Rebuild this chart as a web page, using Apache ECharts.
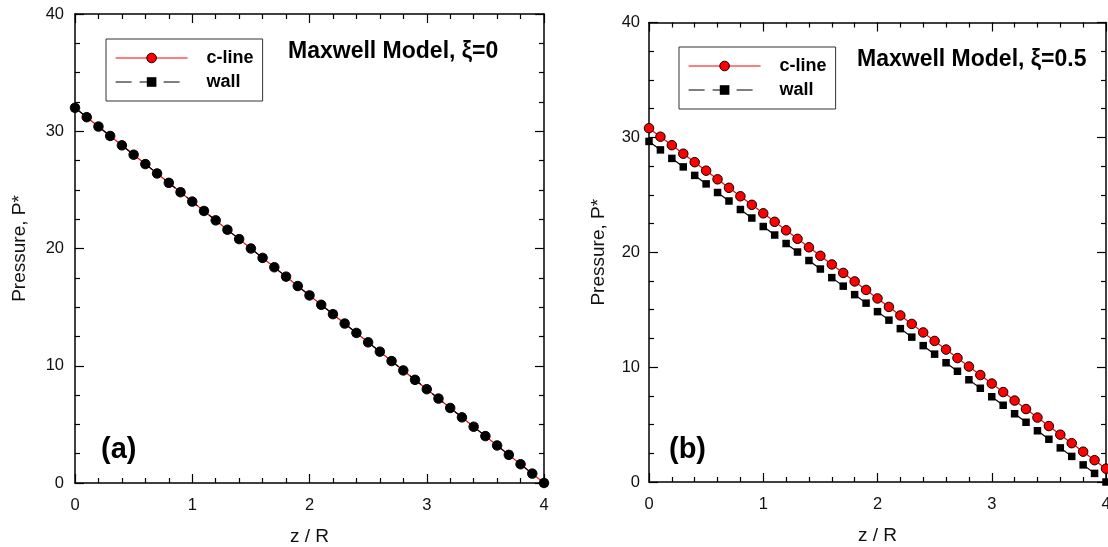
<!DOCTYPE html>
<html>
<head>
<meta charset="utf-8">
<title>Maxwell Model pressure profiles</title>
<script src="https://cdn.jsdelivr.net/npm/echarts@6/dist/echarts.min.js"></script>
<style>
  html, body { margin: 0; padding: 0; background: #fff; overflow: hidden; }
  #chart { width: 1108px; height: 547px; }
</style>
</head>
<body>
<div id="chart"></div>
<script>
// Axial position z / R
const zR = [0, 0.1, 0.2, 0.3, 0.4, 0.5, 0.6, 0.7, 0.8, 0.9,
            1.0, 1.1, 1.2, 1.3, 1.4, 1.5, 1.6, 1.7, 1.8, 1.9,
            2.0, 2.1, 2.2, 2.3, 2.4, 2.5, 2.6, 2.7, 2.8, 2.9,
            3.0, 3.1, 3.2, 3.3, 3.4, 3.5, 3.6, 3.7, 3.8, 3.9, 4.0];

// (a) xi = 0 : centre line and wall pressure coincide
const pCenterA = [32.0, 31.2, 30.4, 29.6, 28.8, 28.0, 27.2, 26.4, 25.6, 24.8,
                  24.0, 23.2, 22.4, 21.6, 20.8, 20.0, 19.2, 18.4, 17.6, 16.8,
                  16.0, 15.2, 14.4, 13.6, 12.8, 12.0, 11.2, 10.4, 9.6, 8.8,
                  8.0, 7.2, 6.4, 5.6, 4.8, 4.0, 3.2, 2.4, 1.6, 0.8, 0.0];
const pWallA   = [32.0, 31.2, 30.4, 29.6, 28.8, 28.0, 27.2, 26.4, 25.6, 24.8,
                  24.0, 23.2, 22.4, 21.6, 20.8, 20.0, 19.2, 18.4, 17.6, 16.8,
                  16.0, 15.2, 14.4, 13.6, 12.8, 12.0, 11.2, 10.4, 9.6, 8.8,
                  8.0, 7.2, 6.4, 5.6, 4.8, 4.0, 3.2, 2.4, 1.6, 0.8, 0.0];

// (b) xi = 0.5
const pCenterB = [30.80, 30.06, 29.32, 28.58, 27.84, 27.10, 26.35, 25.61, 24.87, 24.13,
                  23.39, 22.65, 21.91, 21.17, 20.43, 19.69, 18.94, 18.20, 17.46, 16.72,
                  15.98, 15.24, 14.50, 13.76, 13.02, 12.28, 11.53, 10.79, 10.05, 9.31,
                  8.57, 7.83, 7.09, 6.35, 5.61, 4.87, 4.12, 3.38, 2.64, 1.90, 1.16];
const pWallB   = [29.65, 28.91, 28.17, 27.43, 26.69, 25.95, 25.20, 24.46, 23.72, 22.98,
                  22.24, 21.50, 20.76, 20.02, 19.28, 18.54, 17.79, 17.05, 16.31, 15.57,
                  14.83, 14.09, 13.35, 12.61, 11.87, 11.13, 10.38, 9.64, 8.90, 8.16,
                  7.42, 6.68, 5.94, 5.20, 4.46, 3.72, 2.97, 2.23, 1.49, 0.75, 0.00];

const seriesNames = ['c-line', 'wall'];
const panelTitles = ['Maxwell Model, \u03be=0', 'Maxwell Model, \u03be=0.5'];
const panelTags = ['(a)', '(b)'];
const xAxisName = 'z / R';
const yAxisName = 'Pressure, P*';

const FONT = '"Liberation Sans", Arial, Helvetica, sans-serif';
const RED = '#ff0000';

const pairs = (xs, ys) => xs.map((x, i) => [x, ys[i]]);

// fixed plot frames; labels may run to the page edge
const grids = [
  { left: 75, top: 14, width: 469, height: 469, outerBoundsMode: 'none', containLabel: false },
  { left: 649, top: 22.5, width: 457, height: 459.5, outerBoundsMode: 'none', containLabel: false }
];

const tickStyle = { color: '#000', width: 1.2 };
const frameLine = { show: true, onZero: false, lineStyle: { color: '#000', width: 1.5 } };

function bottomAxis(gridIndex) {
  return {
    type: 'value', gridIndex, position: 'bottom', min: 0, max: 4, interval: 1,
    name: xAxisName, nameLocation: 'middle', nameGap: 44,
    nameTextStyle: { fontFamily: FONT, fontSize: 19, color: '#111' },
    axisLine: frameLine,
    axisTick: { show: true, inside: true, length: 9, lineStyle: tickStyle },
    minorTick: { show: true, splitNumber: 5, length: 5, lineStyle: tickStyle },
    axisLabel: { fontFamily: FONT, fontSize: 16.5, color: '#111', margin: 14 },
    splitLine: { show: false }
  };
}
function topAxis(gridIndex) {
  return {
    type: 'value', gridIndex, position: 'top', min: 0, max: 4, interval: 1,
    axisLine: frameLine,
    axisTick: { show: true, inside: true, length: 9, lineStyle: tickStyle },
    minorTick: { show: true, splitNumber: 5, length: 5, lineStyle: tickStyle },
    axisLabel: { show: false },
    splitLine: { show: false }
  };
}
function leftAxis(gridIndex, nameGap, margin) {
  return {
    type: 'value', gridIndex, position: 'left', min: 0, max: 40, interval: 10,
    name: yAxisName, nameLocation: 'middle', nameGap, nameRotate: 90,
    nameTextStyle: { fontFamily: FONT, fontSize: 19, color: '#111' },
    axisLine: frameLine,
    axisTick: { show: true, inside: true, length: 9, lineStyle: tickStyle },
    minorTick: { show: true, splitNumber: 4, length: 5, lineStyle: tickStyle },
    axisLabel: { fontFamily: FONT, fontSize: 16.5, color: '#111', margin },
    splitLine: { show: false }
  };
}
function rightAxis(gridIndex) {
  return {
    type: 'value', gridIndex, position: 'right', min: 0, max: 40, interval: 10,
    axisLine: frameLine,
    axisTick: { show: true, inside: true, length: 9, lineStyle: tickStyle },
    minorTick: { show: true, splitNumber: 4, length: 5, lineStyle: tickStyle },
    axisLabel: { show: false },
    splitLine: { show: false }
  };
}

function legendFor(left, top) {
  return {
    orient: 'vertical', left, top,
    padding: [10, 9, 10, 9],
    itemWidth: 72, itemHeight: 12, itemGap: 6,
    borderColor: '#333', borderWidth: 1, borderRadius: 0,
    selectedMode: false,
    textStyle: { fontFamily: FONT, fontSize: 18, fontWeight: 'bold', color: '#000', padding: [0, 0, 0, 14] },
    data: [
      { name: seriesNames[0],
        itemStyle: { color: RED, borderColor: '#000', borderWidth: 1 },
        lineStyle: { color: RED, width: 1.2, type: 'solid' } },
      { name: seriesNames[1],
        itemStyle: { color: '#000', borderColor: '#000', borderWidth: 0 },
        lineStyle: { color: '#000', width: 1.2, type: [16, 8] } }
    ]
  };
}

const centreStyleA = {
  symbol: 'circle', symbolSize: 9.5,
  itemStyle: { color: '#140404', borderColor: '#000', borderWidth: 1 },
  lineStyle: { color: RED, width: 1.2 }
};
const centreStyleB = {
  symbol: 'circle', symbolSize: 9.5,
  itemStyle: { color: RED, borderColor: '#000', borderWidth: 1 },
  lineStyle: { color: RED, width: 1.2 }
};
const wallStyle = {
  symbol: 'rect', symbolSize: 7.5,
  itemStyle: { color: '#000', borderWidth: 0 },
  lineStyle: { color: '#000', width: 1.2, type: [14, 14.6], dashOffset: 0 }
};

const titleText = { fontFamily: FONT, fontSize: 23, fontWeight: 'bold', color: '#000' };
const tagText = { fontFamily: FONT, fontSize: 29, fontWeight: 'bold', color: '#000' };

const option = {
  animation: false,
  backgroundColor: '#fff',
  grid: grids,
  xAxis: [bottomAxis(0), topAxis(0), bottomAxis(1), topAxis(1)],
  yAxis: [leftAxis(0, 46, 11), rightAxis(0), leftAxis(1, 41, 9), rightAxis(1)],
  legend: [legendFor(106, 39), legendFor(679, 47)],
  title: [
    { text: panelTitles[0], left: 288, top: 40, padding: 0, textStyle: titleText },
    { text: panelTitles[1], left: 857, top: 48, padding: 0, textStyle: titleText },
    { text: panelTags[0], left: 101, top: 435, padding: 0, textStyle: tagText },
    { text: panelTags[1], left: 669, top: 435, padding: 0, textStyle: tagText }
  ],
  series: [
    Object.assign({ type: 'line', name: seriesNames[0], xAxisIndex: 0, yAxisIndex: 0,
                    data: pairs(zR, pCenterA), z: 2 }, centreStyleA),
    Object.assign({ type: 'line', name: seriesNames[1], xAxisIndex: 0, yAxisIndex: 0,
                    data: pairs(zR, pWallA), z: 3 }, wallStyle),
    Object.assign({ type: 'line', name: seriesNames[1], xAxisIndex: 2, yAxisIndex: 2,
                    data: pairs(zR, pWallB), z: 2 }, wallStyle),
    Object.assign({ type: 'line', name: seriesNames[0], xAxisIndex: 2, yAxisIndex: 2,
                    data: pairs(zR, pCenterB), z: 3 }, centreStyleB)
  ]
};

const chart = echarts.init(document.getElementById('chart'), null, { renderer: 'canvas' });
chart.setOption(option);
</script>
</body>
</html>
